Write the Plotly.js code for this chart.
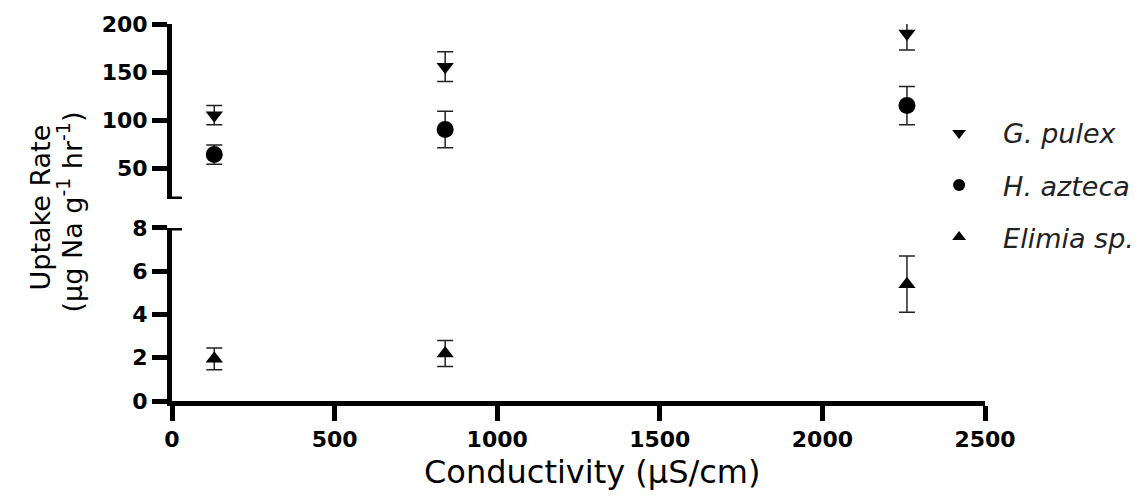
<!DOCTYPE html>
<html>
<head>
<meta charset="utf-8">
<script src="https://cdn.plot.ly/plotly-3.0.1.min.js"></script>
<style>html,body{margin:0;padding:0;background:#fff;}#chart{width:1146px;height:502px;}</style>
</head>
<body>
<div id="chart"></div>
<script>
// Data
const conductivity = [130, 840, 2260];
const gPulex = [105, 155.5, 190];
const gPulexErr = [10, 15.5, 17];
const hAzteca = [64, 90, 115];
const hAztecaErr = [10, 19, 20];
const elimia = [1.95, 2.2, 5.4];
const elimiaErr = [0.5, 0.6, 1.3];
const seriesNames = ['G. pulex', 'H. azteca', 'Elimia sp.'];
const xTicks = [0, 500, 1000, 1500, 2000, 2500];
const upperTicks = [50, 100, 150, 200];
const lowerTicks = [0, 2, 4, 6, 8];
const upperRange = [17.7, 200];
const lowerRange = [0, 8];
const yTitleLines = ['Uptake Rate', '(µg Na g<sup>-1</sup> hr<sup>-1</sup>)'];
const xTitle = 'Conductivity (µS/cm)';

const tickFont = {family: 'DejaVu Sans, sans-serif', size: 22, color: '#000', weight: 'bold'};
const titleFont = {family: 'DejaVu Sans, sans-serif', size: 27, color: '#000'};
const errStyle = (arr) => ({type: 'data', array: arr, visible: true, color: '#222', thickness: 1.5, width: 8});

const traces = [
  {x: conductivity, y: gPulex, error_y: errStyle(gPulexErr), name: seriesNames[0], legendgroup: 'a',
   mode: 'markers', type: 'scatter', xaxis: 'x', yaxis: 'y2',
   marker: {symbol: 'triangle-down', size: 15, color: '#000'}},
  {x: conductivity, y: hAzteca, error_y: errStyle(hAztecaErr), name: seriesNames[1], legendgroup: 'b',
   mode: 'markers', type: 'scatter', xaxis: 'x', yaxis: 'y2',
   marker: {symbol: 'circle', size: 17, color: '#000'}},
  {x: conductivity, y: elimia, error_y: errStyle(elimiaErr), name: seriesNames[2], legendgroup: 'c',
   mode: 'markers', type: 'scatter', xaxis: 'x', yaxis: 'y',
   marker: {symbol: 'triangle-up', size: 15, color: '#000'}}
];

const axisCommon = {showgrid: false, zeroline: false, showline: true, linecolor: '#000', linewidth: 5,
  ticks: 'outside', ticklen: 15, tickwidth: 5, tickcolor: '#000', tickfont: tickFont, fixedrange: true};

const layout = {
  width: 1146, height: 502,
  margin: {l: 172, r: 161, t: 24, b: 101, autoexpand: false},
  paper_bgcolor: '#fff', plot_bgcolor: '#fff',
  showlegend: true,
  legend: {x: 0.914, xanchor: 'left', y: 0.775, yanchor: 'top', itemwidth: 78, itemsizing: 'constant',
    tracegroupgap: 14, font: {family: 'DejaVu Sans, sans-serif', size: 27, color: '#222', style: 'italic'},
    bgcolor: 'rgba(0,0,0,0)'},
  xaxis: Object.assign({}, axisCommon, {range: [0, 2500], tickvals: xTicks, anchor: 'y'}),
  yaxis: Object.assign({}, axisCommon, {range: lowerRange, tickvals: lowerTicks, domain: [0, 0.4589], anchor: 'x'}),
  yaxis2: Object.assign({}, axisCommon, {range: upperRange, tickvals: upperTicks, domain: [0.5358, 1], anchor: 'x'}),
  shapes: [
    {type: 'line', xref: 'x', xsizemode: 'pixel', xanchor: 0, x0: -10, x1: 10, yref: 'y2', y0: upperRange[0], y1: upperRange[0],
     line: {color: '#000', width: 5}},
    {type: 'line', xref: 'x', xsizemode: 'pixel', xanchor: 0, x0: -10, x1: 10, yref: 'y', y0: lowerRange[1], y1: lowerRange[1],
     line: {color: '#000', width: 5}}
  ],
  annotations: [
    {text: yTitleLines[0], textangle: -90, xref: 'paper', yref: 'paper',
     x: 0, y: 0.5, xanchor: 'center', yanchor: 'middle', xshift: -132, yshift: 5, showarrow: false, font: titleFont},
    {text: yTitleLines[1], textangle: -90, xref: 'paper', yref: 'paper',
     x: 0, y: 0.5, xanchor: 'center', yanchor: 'middle', xshift: -102, showarrow: false, font: titleFont},
    {text: xTitle, xref: 'paper', yref: 'paper', x: 0.5, y: 0, xanchor: 'center', yanchor: 'top',
     xshift: 14, yshift: -50, showarrow: false,
     font: {family: 'DejaVu Sans, sans-serif', size: 32, color: '#000'}}
  ]
};

Plotly.newPlot('chart', traces, layout, {displayModeBar: false, staticPlot: true});
</script>
</body>
</html>
